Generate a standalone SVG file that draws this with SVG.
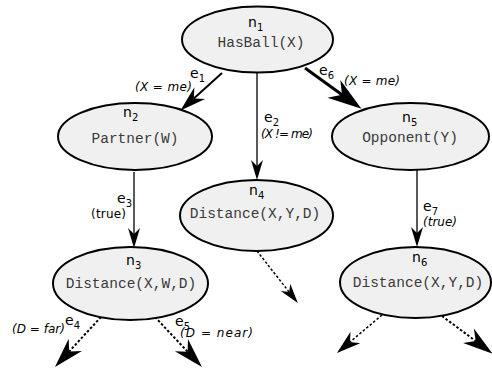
<svg xmlns="http://www.w3.org/2000/svg" width="492" height="371" viewBox="0 0 492 371">
<style>
.node ellipse{fill:#f0f0f0;stroke:#000;stroke-width:2}
.lbl{font-family:"DejaVu Sans",sans-serif;font-size:14px;fill:#000}
.sub{font-size:10px}
.code{font-family:"Liberation Mono","Courier New",monospace;font-size:14.5px;fill:#3a3a3a;text-anchor:middle}
.cond{font-family:"DejaVu Sans",sans-serif;font-size:12px;fill:#000}
.it{font-style:italic}
.edges line{stroke:#000;fill:none}
.dash{stroke-dasharray:2.5,2}
.head{fill:#000;stroke:none}
</style>
<defs>
<marker id="aMed" markerUnits="userSpaceOnUse" orient="auto" markerWidth="30" markerHeight="30" refX="0" refY="0" overflow="visible">
<path class="head" d="M14,0 L-6,-6 L0,0 L-6,6 Z"/>
</marker>
<marker id="aBig" markerUnits="userSpaceOnUse" orient="auto" markerWidth="30" markerHeight="30" refX="0" refY="0" overflow="visible">
<path class="head" d="M18,0 L-8,-8 L0,0 L-8,8 Z"/>
</marker>
<marker id="aHuge" markerUnits="userSpaceOnUse" orient="auto" markerWidth="30" markerHeight="30" refX="0" refY="0" overflow="visible">
<path class="head" d="M24,0 L-10,-11 L0,0 L-10,11 Z"/>
</marker>
<marker id="aDash" markerUnits="userSpaceOnUse" orient="auto" markerWidth="30" markerHeight="30" refX="0" refY="0" overflow="visible">
<path class="head" d="M21,0 L-9,-9 L0,0 L-9,9 Z"/>
</marker>
<marker id="aDashS" markerUnits="userSpaceOnUse" orient="auto" markerWidth="30" markerHeight="30" refX="0" refY="0" overflow="visible">
<path class="head" d="M17,0 L-7,-7.5 L0,0 L-7,7.5 Z"/>
</marker>
</defs>

<g id="connectors" class="edges">
<line id="e1" x1="222" y1="73" x2="193.8" y2="98.5" stroke-width="2" marker-end="url(#aBig)"/>
<line id="e2" x1="257" y1="72" x2="257" y2="166" stroke-width="1.3" marker-end="url(#aMed)"/>
<line id="e6" x1="305" y1="68" x2="342" y2="94.7" stroke-width="3" marker-end="url(#aHuge)"/>
<line id="e3" x1="134" y1="172" x2="134" y2="234" stroke-width="1.3" marker-end="url(#aMed)"/>
<line id="e7" x1="417" y1="170" x2="417" y2="233" stroke-width="1.3" marker-end="url(#aMed)"/>
<line id="e4" class="dash" x1="101" y1="317" x2="69.2" y2="351.5" stroke-width="2" marker-end="url(#aDash)"/>
<line id="e5" class="dash" x1="155" y1="317" x2="187.6" y2="351.7" stroke-width="2" marker-end="url(#aDash)"/>
<line id="e8" class="dash" x1="257" y1="251" x2="289.2" y2="292.1" stroke-width="1.5" marker-end="url(#aMed)"/>
<line id="e9" class="dash" x1="382" y1="315" x2="350" y2="342" stroke-width="1.5" marker-end="url(#aDashS)"/>
<line id="e10" class="dash" x1="442" y1="316" x2="475.7" y2="341.1" stroke-width="2" marker-end="url(#aDash)"/>
</g>

<g id="edge-labels">
<text class="lbl" x="190" y="78">e<tspan class="sub" dy="4">1</tspan></text>
<text class="cond it" x="135" y="91" textLength="57">(X = me)</text>
<text class="lbl" x="264" y="122">e<tspan class="sub" dy="4">2</tspan></text>
<text class="cond it" x="261" y="138" textLength="52">(X != me)</text>
<text class="lbl" x="319" y="75">e<tspan class="sub" dy="4">6</tspan></text>
<text class="cond it" x="344" y="85" textLength="56">(X = me)</text>
<text class="lbl" x="117" y="203">e<tspan class="sub" dy="4">3</tspan></text>
<text class="cond" x="91" y="218" textLength="35">(true)</text>
<text class="lbl" x="423" y="211">e<tspan class="sub" dy="4">7</tspan></text>
<text class="cond it" x="423" y="226" textLength="34">(true)</text>
<text class="lbl" x="65" y="325">e<tspan class="sub" dy="4">4</tspan></text>
<text class="cond it" x="12" y="333" textLength="53">(D = far)</text>
<text class="lbl" x="175" y="326">e<tspan class="sub" dy="4">5</tspan></text>
<text class="cond it" x="180" y="337" textLength="73">(D = near)</text>
</g>

<g id="n1" class="node">
<ellipse cx="257.5" cy="39.5" rx="75.5" ry="33"/>
<text class="lbl" x="248" y="27">n<tspan class="sub" dy="4">1</tspan></text>
<text class="code" x="261" y="47">HasBall(X)</text>
</g>
<g id="n2" class="node">
<ellipse cx="135" cy="136.5" rx="77" ry="33.5"/>
<text class="lbl" x="123" y="117">n<tspan class="sub" dy="4">2</tspan></text>
<text class="code" x="135" y="143">Partner(W)</text>
</g>
<g id="n5" class="node">
<ellipse cx="410.5" cy="136.5" rx="78.5" ry="33.5"/>
<text class="lbl" x="402" y="122">n<tspan class="sub" dy="4">5</tspan></text>
<text class="code" x="410" y="142">Opponent(Y)</text>
</g>
<g id="n4" class="node">
<ellipse cx="256.5" cy="215.5" rx="76.5" ry="35.5"/>
<text class="lbl" x="249" y="195">n<tspan class="sub" dy="4">4</tspan></text>
<text class="code" x="255" y="218">Distance(X,Y,D)</text>
</g>
<g id="n3" class="node">
<ellipse cx="130.5" cy="283.5" rx="77.5" ry="36.5"/>
<text class="lbl" x="126" y="265">n<tspan class="sub" dy="4">3</tspan></text>
<text class="code" x="131" y="288">Distance(X,W,D)</text>
</g>
<g id="n6" class="node">
<ellipse cx="415.5" cy="282.5" rx="75.5" ry="35.5"/>
<text class="lbl" x="412" y="262">n<tspan class="sub" dy="4">6</tspan></text>
<text class="code" x="418" y="287">Distance(X,Y,D)</text>
</g>
</svg>
